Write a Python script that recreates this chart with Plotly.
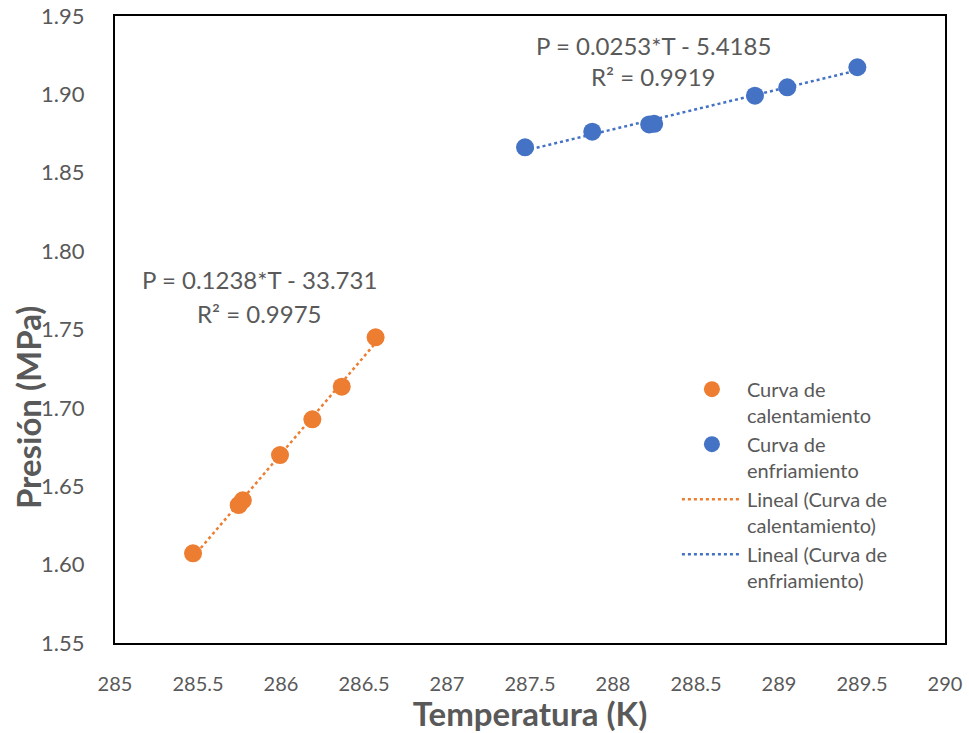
import numpy as np
import plotly.graph_objects as go

# Curva de calentamiento (heating)
t_cal = [285.47, 285.745, 285.77, 285.994, 286.189, 286.366, 286.570]
p_cal = [1.6072, 1.638, 1.641, 1.6699, 1.6927, 1.7135, 1.7450]
# Curva de enfriamiento (cooling)
t_enf = [287.470, 287.875, 288.218, 288.248, 288.855, 289.050, 289.472]
p_enf = [1.8662, 1.8762, 1.8808, 1.8812, 1.8992, 1.9045, 1.9173]

eq_cal = ["P = 0.1238*T - 33.731", "R² = 0.9975"]
eq_enf = ["P = 0.0253*T - 5.4185", "R² = 0.9919"]

x_ticks = [285, 285.5, 286, 286.5, 287, 287.5, 288, 288.5, 289, 289.5, 290]
y_ticks = [1.55, 1.60, 1.65, 1.70, 1.75, 1.80, 1.85, 1.90, 1.95]

ORANGE = "#ED7D31"
BLUE = "#4472C4"
GREY = "#595959"
FONT = "Lato"


def fit_line(t, p):
    c = np.polyfit(t, p, 1)
    xs = np.array([min(t), max(t)])
    return xs, np.polyval(c, xs)


fig = go.Figure()
fig.add_trace(go.Scatter(x=t_cal, y=p_cal, mode="markers",
                         marker=dict(color=ORANGE, size=18),
                         name="Curva de<br>calentamiento"))
fig.add_trace(go.Scatter(x=t_enf, y=p_enf, mode="markers",
                         marker=dict(color=BLUE, size=18),
                         name="Curva de<br>enfriamiento"))
xs, ys = fit_line(t_cal, p_cal)
fig.add_trace(go.Scatter(x=xs, y=ys, mode="lines",
                         line=dict(color=ORANGE, width=2.5, dash="dot"),
                         name="Lineal (Curva de<br>calentamiento)"))
xs, ys = fit_line(t_enf, p_enf)
fig.add_trace(go.Scatter(x=xs, y=ys, mode="lines",
                         line=dict(color=BLUE, width=2.5, dash="dot"),
                         name="Lineal (Curva de<br>enfriamiento)"))

ann_font = dict(family=FONT, size=24, color=GREY)
for txt, x, y in [(eq_cal[0], 285.873, 1.7816), (eq_cal[1], 285.873, 1.7605),
                  (eq_enf[0], 288.241, 1.9315), (eq_enf[1], 288.241, 1.9111)]:
    fig.add_annotation(x=x, y=y, xref="x", yref="y", text=txt,
                       showarrow=False, font=ann_font)

# y-axis title (placed like the original, slightly below centre)
fig.add_annotation(x=-0.105, y=0.376, xref="paper", yref="paper",
                   text="<b>Presión (MPa)</b>", textangle=-90,
                   showarrow=False, xanchor="center", yanchor="middle",
                   font=dict(size=33, color=GREY, family=FONT))

fig.update_layout(
    width=969, height=733,
    margin=dict(l=115, r=24, t=16, b=90),
    paper_bgcolor="white", plot_bgcolor="white",
    font=dict(family=FONT, color=GREY, size=18),
    legend=dict(x=0.677, y=0.436, xanchor="left", yanchor="top",
                font=dict(family=FONT, size=20, color=GREY),
                bgcolor="rgba(0,0,0,0)", itemwidth=60, valign="top",
                tracegroupgap=0),
    xaxis=dict(range=[285, 290], tickvals=x_ticks,
               ticktext=[f"{v:g}" for v in x_ticks],
               showgrid=False, zeroline=False, showline=True,
               linecolor="black", linewidth=2, mirror=True,
               ticks="", ticklabelstandoff=22, automargin=False,
               tickfont=dict(size=20, color=GREY, family=FONT),
               title=dict(text="<b>Temperatura (K)</b>",
                          font=dict(size=33, color=GREY, family=FONT),
                          standoff=1)),
    yaxis=dict(range=[1.55, 1.95], tickvals=y_ticks,
               ticktext=[f"{v:.2f}" for v in y_ticks],
               showgrid=False, zeroline=False, showline=True,
               linecolor="black", linewidth=2, mirror=True,
               ticks="", ticklabelstandoff=24, automargin=False,
               tickfont=dict(size=22, color=GREY, family=FONT)),
)

fig.write_html("out.html")
